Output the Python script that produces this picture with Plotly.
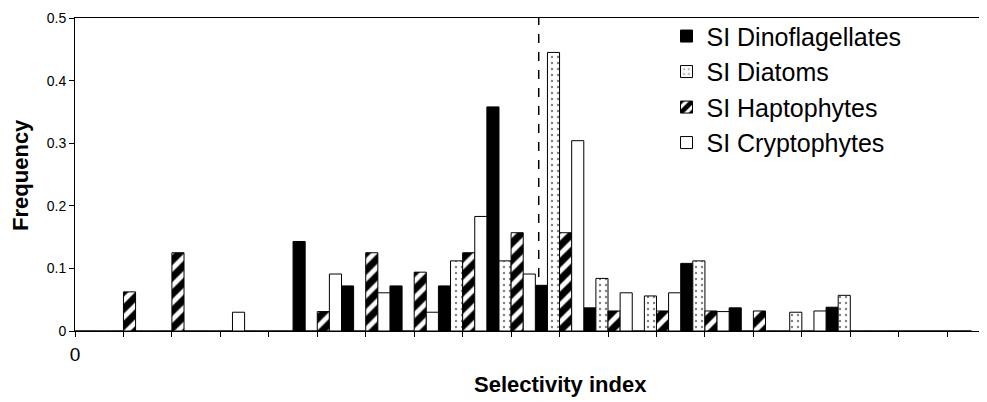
import plotly.graph_objects as go

# Category index along the selectivity axis (ticks); only the first tick is labelled
categories = list(range(19))
tick_labels = ["0"] + [""] * 18

si_dinoflagellates = [0, 0, 0, 0, 0, 0.143, 0.072, 0.072, 0.072, 0.358, 0.073, 0.037, 0, 0.108, 0.037, 0, 0.038, 0, 0]
si_diatoms = [0, 0, 0, 0, 0, 0, 0, 0, 0.112, 0.112, 0.445, 0.084, 0.056, 0.112, 0, 0.030, 0.057, 0, 0]
si_haptophytes = [0, 0.0625, 0.125, 0, 0, 0.031, 0.125, 0.094, 0.125, 0.157, 0.157, 0.032, 0.032, 0.032, 0.032, 0, 0, 0, 0]
si_cryptophytes = [0, 0, 0, 0.030, 0, 0.091, 0.061, 0.030, 0.183, 0.091, 0.304, 0.061, 0.061, 0.031, 0, 0.032, 0, 0, 0]

y_ticks = [0, 0.1, 0.2, 0.3, 0.4, 0.5]
y_tick_labels = ["0", "0.1", "0.2", "0.3", "0.4", "0.5"]
threshold_x = 9.57

FONT = "Liberation Sans, Arial, sans-serif"
line = dict(color="black", width=1)

fig = go.Figure()
fig.add_trace(go.Bar(
    x=categories, y=si_dinoflagellates, name="SI Dinoflagellates",
    offset=-0.5, width=0.25, legendgroup="a",
    marker=dict(color="black", line=line),
))
fig.add_trace(go.Bar(
    x=categories, y=si_diatoms, name="SI Diatoms",
    offset=-0.25, width=0.25, legendgroup="b",
    marker=dict(color="white", line=line,
                pattern=dict(shape=".", fgcolor="black", bgcolor="white", size=6, solidity=0.12)),
))
fig.add_trace(go.Bar(
    x=categories, y=si_haptophytes, name="SI Haptophytes",
    offset=0.0, width=0.25, legendgroup="c",
    marker=dict(color="white", line=line,
                pattern=dict(shape="/", fgcolor="black", bgcolor="white", size=12, solidity=0.6,
                             fgopacity=1)),
))
fig.add_trace(go.Bar(
    x=categories, y=si_cryptophytes, name="SI Cryptophytes",
    offset=0.25, width=0.25, legendgroup="d",
    marker=dict(color="white", line=line),
))

fig.add_shape(type="line", xref="x", yref="y", x0=threshold_x, x1=threshold_x, y0=0, y1=0.5,
              line=dict(color="black", width=1.5, dash="dash"), layer="below")

# The page body adds an 8px margin, so the figure is 8px smaller and margins shifted.
fig.update_layout(
    width=979, height=394,
    margin=dict(l=67, r=2, t=7, b=71),
    paper_bgcolor="white", plot_bgcolor="white",
    font=dict(family=FONT, color="black"),
    barmode="overlay",
    showlegend=True,
    legend=dict(x=0.65, y=1.015, xanchor="left", yanchor="top",
                font=dict(size=25, family=FONT), bgcolor="rgba(0,0,0,0)",
                traceorder="grouped", tracegroupgap=0),
    xaxis=dict(range=[0, 18.78], tickmode="array", tickvals=categories, ticktext=tick_labels,
               ticks="outside", ticklen=5, tickcolor="black", showline=True, linecolor="black",
               linewidth=1, mirror=True, showgrid=False, zeroline=False,
               tickfont=dict(size=19), ticklabelstandoff=1, ticklabeloverflow="allow"),
    yaxis=dict(range=[0, 0.5], tickmode="array", tickvals=y_ticks, ticktext=y_tick_labels,
               ticks="outside", ticklen=5, tickcolor="black", showline=True, linecolor="black",
               linewidth=1, showgrid=False, zeroline=False, tickfont=dict(size=14),
               ticklabeloverflow="allow"),
    annotations=[
        dict(text="<b>Frequency</b>", xref="paper", yref="paper", x=-0.06, y=0.5,
             textangle=-90, showarrow=False, font=dict(size=22), xanchor="center", yanchor="middle"),
        dict(text="<b>Selectivity index</b>", xref="paper", yref="paper", x=0.534, y=-0.171,
             showarrow=False, font=dict(size=22), xanchor="center", yanchor="middle"),
    ],
)

fig.write_html("out.html")
